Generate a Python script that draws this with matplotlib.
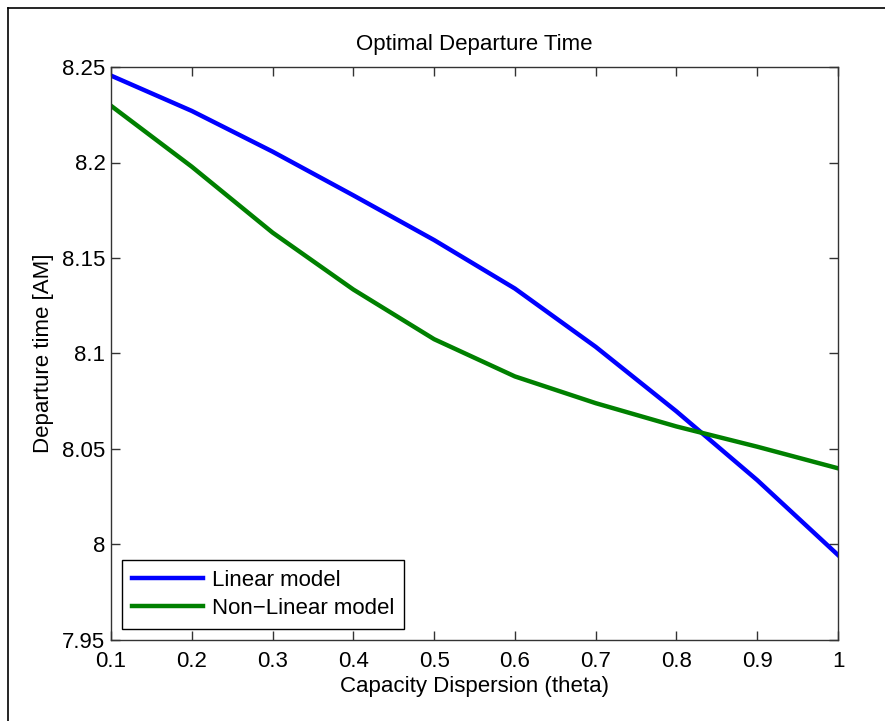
import matplotlib
matplotlib.use("Agg")
import matplotlib.pyplot as plt
from matplotlib.lines import Line2D

plt.rcParams["font.family"] = ["Liberation Sans", "DejaVu Sans"]

theta = [0.1, 0.2, 0.3, 0.4, 0.5, 0.6, 0.7, 0.8, 0.9, 1.0]
linear_model = [8.2455, 8.2270, 8.2057, 8.1828, 8.1594, 8.1340, 8.1035, 8.0697, 8.0337, 7.9945]
nonlinear_model = [8.2297, 8.1978, 8.1633, 8.1335, 8.1075, 8.0880, 8.0740, 8.0618, 8.0512, 8.0399]

xticks = [0.1, 0.2, 0.3, 0.4, 0.5, 0.6, 0.7, 0.8, 0.9, 1.0]
xticklabels = ["0.1", "0.2", "0.3", "0.4", "0.5", "0.6", "0.7", "0.8", "0.9", "1"]
yticks = [7.95, 8.0, 8.05, 8.1, 8.15, 8.2, 8.25]
yticklabels = ["7.95", "8", "8.05", "8.1", "8.15", "8.2", "8.25"]

fig = plt.figure(figsize=(8.85, 7.21), dpi=100)
fig.patch.set_facecolor("white")
ax = fig.add_axes([111 / 885, 81 / 721, 727 / 885, 573 / 721])

ax.plot(theta, linear_model, color="#0000FF", lw=3.2, label="Linear model")
ax.plot(theta, nonlinear_model, color="#008000", lw=3.2, label="Non\u2212Linear model")

ax.set_xlim(0.1, 1.0)
ax.set_ylim(7.95, 8.25)
ax.set_xticks(xticks)
ax.set_xticklabels(xticklabels)
ax.set_yticks(yticks)
ax.set_yticklabels(yticklabels)
ax.tick_params(direction="in", length=6.5, width=1.0, color="#333333",
               top=True, right=True, labelsize=16)
ax.tick_params(axis="x", pad=8)
ax.tick_params(axis="y", pad=4)
for s in ax.spines.values():
    s.set_color("#333333")
    s.set_linewidth(1.0)

ax.set_title("Optimal Departure Time", fontsize=16, pad=12)
ax.set_xlabel("Capacity Dispersion (theta)", fontsize=16, labelpad=3)
ax.set_ylabel("Departure time [AM]", fontsize=16, labelpad=6)

leg = ax.legend(loc="lower left", fontsize=16, frameon=True, fancybox=False,
                edgecolor="black", framealpha=1, borderaxespad=0.5,
                handlelength=3.2, handletextpad=0.4, labelspacing=0.3,
                borderpad=0.45)
leg.get_frame().set_linewidth(1.0)

# outer frame of the figure (left and top edges)
fig.add_artist(Line2D([8 / 885, 8 / 885], [0, 1 - 8 / 721], color="black", lw=1.2,
                      transform=fig.transFigure))
fig.add_artist(Line2D([8 / 885, 1], [1 - 8 / 721, 1 - 8 / 721], color="black", lw=1.2,
                      transform=fig.transFigure))

fig.savefig("out.png", dpi=100)
